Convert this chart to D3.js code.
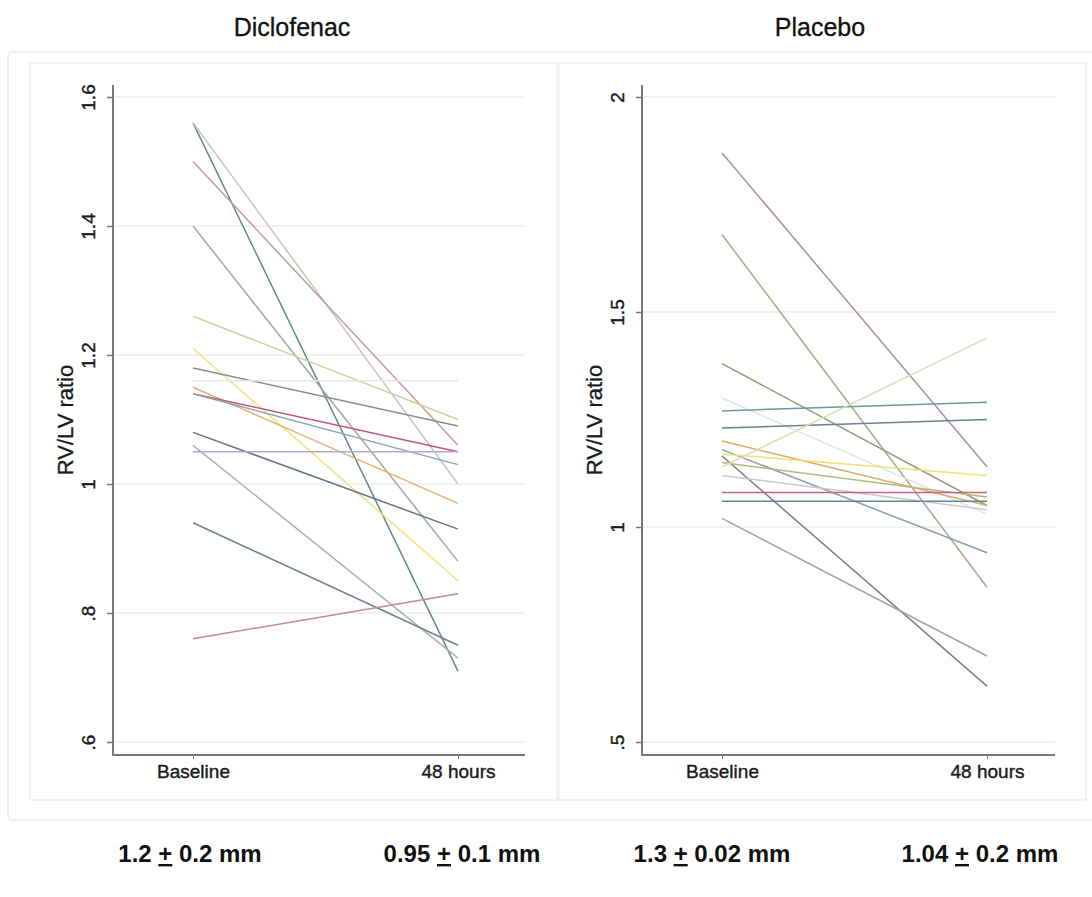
<!DOCTYPE html>
<html>
<head>
<meta charset="utf-8">
<script src="https://cdn.jsdelivr.net/npm/d3@7"></script>
<style>
  body { margin: 0; background: #fff; }
  svg { display: block; font-family: "Liberation Sans", Arial, sans-serif; }
</style>
</head>
<body>
<svg id="chart" width="1092" height="897"></svg>
<script>
// data
var timepoints = ["Baseline", "48 hours"];

var diclofenacBaseline = [1.56, 1.56, 1.50, 1.40, 1.26, 1.21, 1.18, 1.16, 1.15, 1.14, 1.14, 1.08, 1.05, 1.06, 0.94, 0.76];
var diclofenac48h      = [0.71, 1.00, 1.06, 0.88, 1.10, 0.85, 1.09, 1.16, 0.97, 1.05, 1.03, 0.93, 1.05, 0.73, 0.75, 0.83];

var placeboBaseline = [1.87, 1.68, 1.38, 1.30, 1.27, 1.23, 1.20, 1.18, 1.17, 1.165, 1.15, 1.12, 1.08, 1.06, 1.02, 1.14];
var placebo48h      = [1.14, 0.86, 1.05, 1.03, 1.29, 1.25, 1.05, 0.94, 1.12, 0.63, 1.07, 1.04, 1.08, 1.06, 0.70, 1.44];

var diclofenacTicks = [0.6, 0.8, 1, 1.2, 1.4, 1.6];
var diclofenacTickLabels = [".6", ".8", "1", "1.2", "1.4", "1.6"];
var placeboTicks = [0.5, 1, 1.5, 2];
var placeboTickLabels = [".5", "1", "1.5", "2"];

var summaryMean = ["1.2", "0.95", "1.3", "1.04"];
var summarySd   = ["0.2", "0.1", "0.02", "0.2"];

// line colours (faded stata-ish palette)
var diclofenacColors = ["#5a8a90", "#cbc3bf", "#c49c9a", "#a8a898", "#cdd0a4", "#f0e27a", "#829282", "#e6e8ec",
                        "#e8b070", "#c4587a", "#8aa8b0", "#66718e", "#b0a8d8", "#a8b0b8", "#707e94", "#c08a98"];
var placeboColors = ["#ab8f96", "#b3a08e", "#8e9c78", "#dde4ec", "#6a98a0", "#6a8298", "#e0a868", "#8aa0a8",
                     "#f0e070", "#8e7290", "#b8b878", "#c8c8d0", "#d06080", "#5a8a9a", "#9ea4ac", "#d8dcb8"];

var svg = d3.select("#chart");

// outer frame and panel boxes
svg.append("rect").attr("x", 8).attr("y", 52).attr("width", 1100).attr("height", 768)
    .attr("rx", 4).attr("fill", "#fff").attr("stroke", "#f0f0f0").attr("stroke-width", 2);

var panels = [
  { title: "Diclofenac", base: diclofenacBaseline, after: diclofenac48h, colors: diclofenacColors,
    ticks: diclofenacTicks, tickLabels: diclofenacTickLabels, domain: [0.6, 1.6],
    left: 30, axisX: 113, right: 525, titleX: 292 },
  { title: "Placebo", base: placeboBaseline, after: placebo48h, colors: placeboColors,
    ticks: placeboTicks, tickLabels: placeboTickLabels, domain: [0.5, 2],
    left: 559, axisX: 642, right: 1055, titleX: 820 }
];

var yTop = 97, yBottom = 742, axisTop = 85, axisBottom = 755;

panels.forEach(function(p) {
  var g = svg.append("g");

  g.append("rect").attr("x", p.left).attr("y", 63).attr("width", 527).attr("height", 737)
      .attr("fill", "#fff").attr("stroke", "#eeeeee").attr("stroke-width", 1.5);

  svg.append("text").attr("x", p.titleX).attr("y", 36)
      .attr("text-anchor", "middle")
      .style("font-size", "25px").attr("fill", "#111")
      .attr("stroke", "#111").attr("stroke-width", 0.3)
      .text(p.title);

  var x = d3.scalePoint().domain(timepoints).range([p.axisX + 80, p.axisX + 345]);
  var y = d3.scaleLinear().domain(p.domain).range([yBottom, yTop]);

  // gridlines
  g.append("g").selectAll("line").data(p.ticks).enter().append("line")
      .attr("x1", p.axisX).attr("x2", p.right)
      .attr("y1", function(d) { return y(d); }).attr("y2", function(d) { return y(d); })
      .attr("stroke", "#ececec").attr("stroke-width", 1.5);

  // subject lines
  var pairs = p.base.map(function(b, i) { return { b: b, a: p.after[i], c: p.colors[i] }; });
  g.append("g").selectAll("line").data(pairs).enter().append("line")
      .attr("x1", x("Baseline")).attr("x2", x("48 hours"))
      .attr("y1", function(d) { return y(d.b); })
      .attr("y2", function(d) { return y(d.a); })
      .attr("stroke", function(d) { return d.c; })
      .attr("stroke-width", 1.5);

  // y axis
  var yAxis = d3.axisLeft(y).tickValues(p.ticks).tickSize(6)
      .tickFormat(function(d, i) { return p.tickLabels[i]; });
  var ya = g.append("g").attr("transform", "translate(" + p.axisX + ",0)").call(yAxis);
  ya.select(".domain").remove();
  ya.selectAll(".tick line").attr("stroke", "#777").attr("stroke-width", 1.5);
  ya.selectAll(".tick text")
      .attr("transform", "rotate(-90)")
      .attr("x", 0).attr("y", -18).attr("dy", 0)
      .attr("text-anchor", "middle")
      .style("font-size", "19px").attr("fill", "#1a1a1a")
      .attr("stroke", "#1a1a1a").attr("stroke-width", 0.4);

  g.append("line").attr("x1", p.axisX).attr("x2", p.axisX)
      .attr("y1", axisBottom).attr("y2", axisTop)
      .attr("stroke", "#777").attr("stroke-width", 2);

  // x axis
  var xAxis = d3.axisBottom(x).tickSize(4).tickSizeOuter(0);
  var xa = g.append("g").attr("transform", "translate(0," + axisBottom + ")").call(xAxis);
  xa.select(".domain").remove();
  xa.selectAll(".tick line").attr("stroke", "#777");
  xa.selectAll(".tick text").attr("y", 23).attr("dy", 0)
      .style("font-size", "19px").attr("fill", "#1a1a1a")
      .attr("stroke", "#1a1a1a").attr("stroke-width", 0.4);
  g.append("line").attr("x1", p.axisX - 1).attr("x2", p.right)
      .attr("y1", axisBottom).attr("y2", axisBottom)
      .attr("stroke", "#777").attr("stroke-width", 2);

  g.append("text")
      .attr("transform", "translate(" + (p.axisX - 40) + ",420) rotate(-90)")
      .attr("text-anchor", "middle")
      .style("font-size", "22px").attr("fill", "#1a1a1a")
      .attr("stroke", "#1a1a1a").attr("stroke-width", 0.3)
      .text("RV/LV ratio");
});

// summary text under the panels
var summaryX = [190, 462, 712, 980];
summaryMean.forEach(function(m, i) {
  var t = svg.append("text").attr("x", summaryX[i]).attr("y", 862)
      .attr("text-anchor", "middle")
      .style("font-size", "24px").style("font-weight", "bold").attr("fill", "#111");
  t.append("tspan").text(m + " ");
  t.append("tspan").style("text-decoration", "underline").text("+");
  t.append("tspan").text(" " + summarySd[i] + " mm");
});
</script>
</body>
</html>
